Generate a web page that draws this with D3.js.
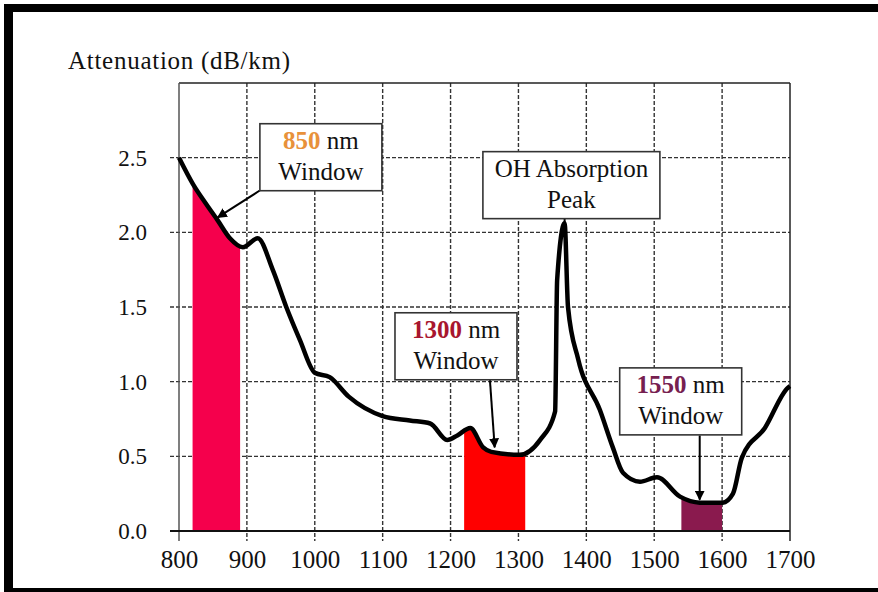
<!DOCTYPE html>
<html>
<head>
<meta charset="utf-8">
<script src="https://cdn.jsdelivr.net/npm/d3@7"></script>
<style>
  body { margin: 0; background: #fff; }
  svg text { font-family: "Liberation Serif", "Times New Roman", Times, "DejaVu Serif", serif; fill: #111; }
  .grid line { stroke: #333; stroke-width: 1.4; stroke-dasharray: 4,2; }
  .axis path { display: none; }
</style>
</head>
<body>
<div id="chart"></div>
<script>
// Data
let wavelength = [800, 821, 840, 857, 875, 894, 916, 938, 958, 978, 1000, 1022, 1050, 1100, 1140, 1170,
  1195, 1210, 1229, 1248, 1260, 1302, 1332, 1354, 1357, 1368, 1373, 1388, 1420, 1439, 1454, 1479,
  1504, 1538, 1567, 1601, 1616, 1629, 1663, 1697, 1700];
let attenuation = [2.5, 2.32, 2.19, 2.08, 1.96, 1.9, 1.96, 1.75, 1.5, 1.28, 1.06, 1.03, 0.9, 0.77, 0.74, 0.72,
  0.61, 0.64, 0.69, 0.56, 0.53, 0.51, 0.61, 0.8, 1.68, 2.06, 1.5, 1.15, 0.81, 0.56, 0.39, 0.33,
  0.36, 0.23, 0.19, 0.19, 0.25, 0.49, 0.69, 0.96, 0.97];

let xTicks = [800, 900, 1000, 1100, 1200, 1300, 1400, 1500, 1600, 1700];
let yTicks = [0, 0.5, 1.0, 1.5, 2.0, 2.5];

// low-loss windows
let windowName = ["850", "1300", "1550"];
let windowStart = [820, 1220, 1540];
let windowEnd = [890, 1310, 1600];
let windowFill = ["#f5004c", "#ff0000", "#8a1a4e"];
let windowNumColor = ["#e8913a", "#a8162e", "#762050"];

// callouts: box centre (nm, dB/km) and arrow from / to
let calloutLines = [["850", "Window"], ["OH Absorption", "Peak"], ["1300", "Window"], ["1550", "Window"]];
let calloutX = [1009, 1378, 1208, 1539];
let calloutY = [2.503, 2.316, 1.237, 0.868];
let calloutW = [122, 177, 122, 122];
let arrowFrom = [[919, 2.28], [1368, 2.09], [1258, 1.01], [1567, 0.64]];
let arrowTo = [[857, 2.1], [1368, 2.06], [1265, 0.56], [1567, 0.21]];

let W = 878, H = 592;
let margin = {top: 83, left: 179, bottom: 61, right: 88};
let width = W - margin.left - margin.right;
let height = H - margin.top - margin.bottom;
let serif = "'Liberation Serif', 'Times New Roman', Times, 'DejaVu Serif', serif";

let svg = d3.select("#chart").append("svg")
    .attr("width", W)
    .attr("height", H);

// page frame
svg.append("rect").attr("x", 4).attr("y", 4).attr("width", W - 4).attr("height", 8).attr("fill", "#000");
svg.append("rect").attr("x", 4).attr("y", 4).attr("width", 9).attr("height", H - 4).attr("fill", "#000");
svg.append("rect").attr("x", 4).attr("y", 588).attr("width", W - 4).attr("height", 4).attr("fill", "#000");

svg.append("text")
    .attr("x", 68)
    .attr("y", 69)
    .attr("font-family", serif)
    .attr("font-size", 25)
    .attr("textLength", 222)
    .text("Attenuation (dB/km)");

let g = svg.append("g")
    .attr("transform", `translate(${margin.left}, ${margin.top})`);

let xScale = d3.scaleLinear().domain([800, 1700]).range([0, width]);
let yScale = d3.scaleLinear().domain([0, 3]).range([height, 0]);

let data = wavelength.map((d, i) => ({x: d, y: attenuation[i]}));

// grid
g.append("g").attr("class", "grid")
  .selectAll("line").data(yTicks.slice(1)).enter().append("line")
    .attr("x1", -9).attr("x2", width)
    .attr("y1", d => yScale(d)).attr("y2", d => yScale(d));
g.append("g").attr("class", "grid")
  .selectAll("line").data(xTicks.slice(1, -1)).enter().append("line")
    .attr("x1", d => xScale(d)).attr("x2", d => xScale(d))
    .attr("y1", 0).attr("y2", height + 10);

// windows: area under the curve clipped to each band
let area = d3.area()
    .x(d => xScale(d.x))
    .y0(height)
    .y1(d => yScale(d.y))
    .curve(d3.curveMonotoneX);

windowName.forEach((n, i) => {
  g.append("clipPath").attr("id", "clip" + n)
    .append("rect")
      .attr("x", xScale(windowStart[i]))
      .attr("width", xScale(windowEnd[i]) - xScale(windowStart[i]))
      .attr("y", 0).attr("height", height);
  g.append("path")
    .datum(data)
    .attr("fill", windowFill[i])
    .attr("stroke", "#600")
    .attr("stroke-width", 0.8)
    .attr("clip-path", `url(#clip${n})`)
    .attr("d", area);
});

// frame of the plot
g.append("line").attr("x1", 0).attr("x2", width).attr("y1", 0).attr("y2", 0).attr("stroke", "#222").attr("stroke-width", 1.5);
g.append("line").attr("x1", width).attr("x2", width).attr("y1", 0).attr("y2", height + 10).attr("stroke", "#222").attr("stroke-width", 1.5);
g.append("line").attr("x1", 0).attr("x2", 0).attr("y1", 0).attr("y2", height + 10).attr("stroke", "#555").attr("stroke-width", 1.5);
g.append("line").attr("x1", -9).attr("x2", width).attr("y1", height).attr("y2", height).attr("stroke", "#111").attr("stroke-width", 1.8);

// axes
let yAxis = d3.axisLeft(yScale).tickValues(yTicks).tickFormat(d3.format(".1f")).tickSize(0).tickPadding(32);
g.append("g").attr("class", "axis").attr("font-family", serif).call(yAxis)
  .selectAll("text").attr("font-size", 23).attr("fill", "#111");

let xAxis = d3.axisBottom(xScale).tickValues(xTicks).tickFormat(d3.format("d")).tickSize(0).tickPadding(19);
g.append("g").attr("class", "axis").attr("font-family", serif)
    .attr("transform", `translate(0, ${height})`)
    .call(xAxis)
  .selectAll("text").attr("font-size", 25).attr("fill", "#111");

// curve
let line = d3.line()
    .x(d => xScale(d.x))
    .y(d => yScale(d.y))
    .curve(d3.curveMonotoneX);

g.append("path")
    .datum(data)
    .attr("fill", "none")
    .attr("stroke", "#000")
    .attr("stroke-width", 4.5)
    .attr("stroke-linejoin", "round")
    .attr("d", line);

// arrows
svg.append("defs").append("marker")
    .attr("id", "head")
    .attr("viewBox", "0 0 10 10")
    .attr("refX", 9).attr("refY", 5)
    .attr("markerWidth", 5).attr("markerHeight", 5)
    .attr("orient", "auto")
  .append("path").attr("d", "M0,0L10,5L0,10z").attr("fill", "#000");

arrowFrom.forEach((a, i) => {
  g.append("line")
    .attr("x1", xScale(a[0])).attr("y1", yScale(a[1]))
    .attr("x2", xScale(arrowTo[i][0])).attr("y2", yScale(arrowTo[i][1]))
    .attr("stroke", "#000").attr("stroke-width", 2)
    .attr("marker-end", i === 1 ? null : "url(#head)");
});

// callout boxes
calloutLines.forEach((lines, i) => {
  let cx = xScale(calloutX[i]), cy = yScale(calloutY[i]);
  let bw = calloutW[i], bh = 67;
  let box = g.append("g").attr("transform", `translate(${cx}, ${cy})`).attr("font-family", serif);
  box.append("rect")
    .attr("x", -bw / 2).attr("y", -bh / 2)
    .attr("width", bw).attr("height", bh)
    .attr("fill", "#fff").attr("stroke", "#333").attr("stroke-width", 1.6);
  let t1 = box.append("text").attr("text-anchor", "middle").attr("y", -8).attr("font-size", 25);
  let k = windowName.indexOf(lines[0]);
  if (k >= 0) {
    t1.append("tspan").attr("font-weight", "bold").style("fill", windowNumColor[k]).text(lines[0]);
    t1.append("tspan").text(" nm");
  } else {
    t1.text(lines[0]);
  }
  box.append("text").attr("text-anchor", "middle").attr("y", 23).attr("font-size", 25).text(lines[1]);
});
</script>
</body>
</html>
